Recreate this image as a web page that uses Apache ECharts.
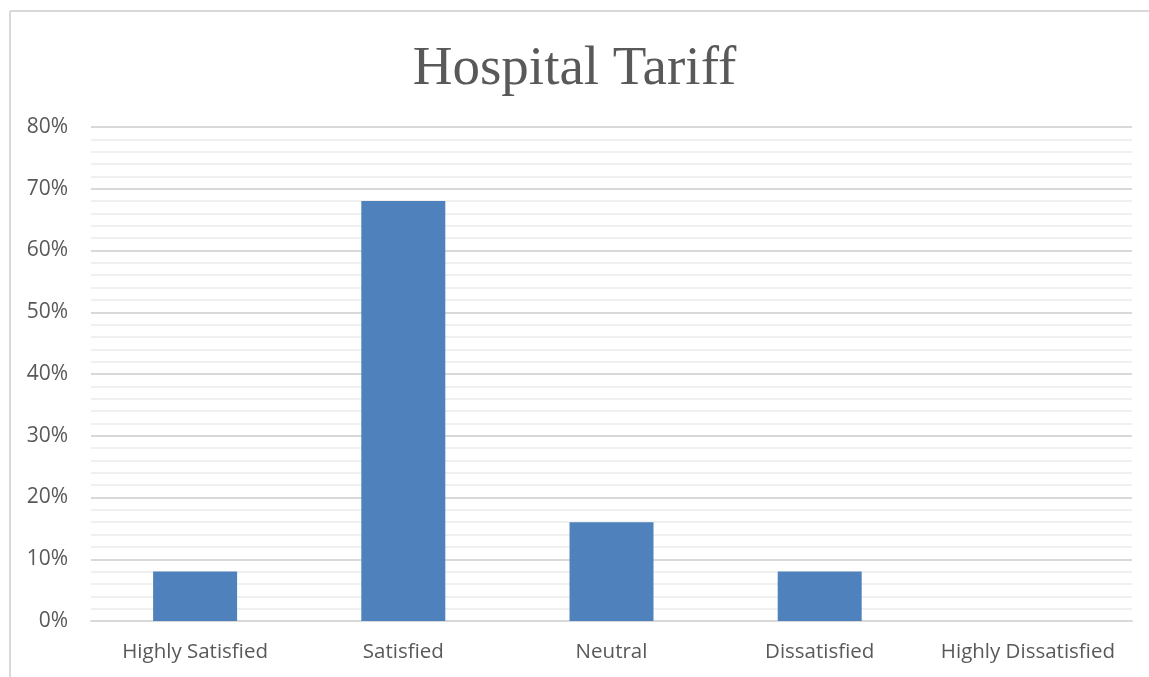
<!DOCTYPE html>
<html>
<head>
<meta charset="utf-8">
<script src="https://cdn.jsdelivr.net/npm/echarts@6/dist/echarts.min.js"></script>
<style>
html,body{margin:0;padding:0;background:#fff;}
#chart{width:1149px;height:677px;}
</style>
</head>
<body>
<div id="chart"></div>
<script>
const categories = ['Highly Satisfied', 'Satisfied', 'Neutral', 'Dissatisfied', 'Highly Dissatisfied'];
const values = [8, 68, 16, 8, 0];
const titleText = 'Hospital Tariff';

const chart = echarts.init(document.getElementById('chart'), null, {renderer: 'canvas'});
chart.setOption({
  animation: false,
  backgroundColor: '#ffffff',
  title: {
    text: titleText,
    left: 'center',
    top: 37,
    textStyle: {fontFamily: 'Liberation Serif', fontWeight: 'normal', fontSize: 55, color: '#595959'}
  },
  graphic: [
    {type: 'line', shape: {x1: 10, y1: 11, x2: 1149, y2: 11}, style: {stroke: '#d9d9d9', lineWidth: 2}},
    {type: 'line', shape: {x1: 10, y1: 11, x2: 10, y2: 677}, style: {stroke: '#d9d9d9', lineWidth: 2}}
  ],
  grid: {left: 91, right: 17, top: 127, bottom: 56, containLabel: false},
  xAxis: {
    type: 'category',
    data: categories,
    axisLine: {show: true, lineStyle: {color: '#d9d9d9', width: 2}},
    axisTick: {show: false},
    axisLabel: {interval: 0, hideOverlap: false, color: '#595959', fontSize: 20.5, fontFamily: 'Open Sans', margin: 21}
  },
  yAxis: {
    type: 'value',
    min: 0,
    max: 80,
    interval: 10,
    axisLine: {show: false},
    axisTick: {show: false},
    axisLabel: {formatter: '{value}%', color: '#595959', fontSize: 21, fontFamily: 'Open Sans', margin: 23},
    splitLine: {show: true, lineStyle: {color: '#d9d9d9', width: 2}},
    minorTick: {show: false, splitNumber: 5},
    minorSplitLine: {show: true, lineStyle: {color: '#f0f0f0', width: 2}}
  },
  series: [{
    type: 'bar',
    data: values,
    barWidth: 84,
    itemStyle: {color: '#4f81bd'}
  }]
});
</script>
</body>
</html>
